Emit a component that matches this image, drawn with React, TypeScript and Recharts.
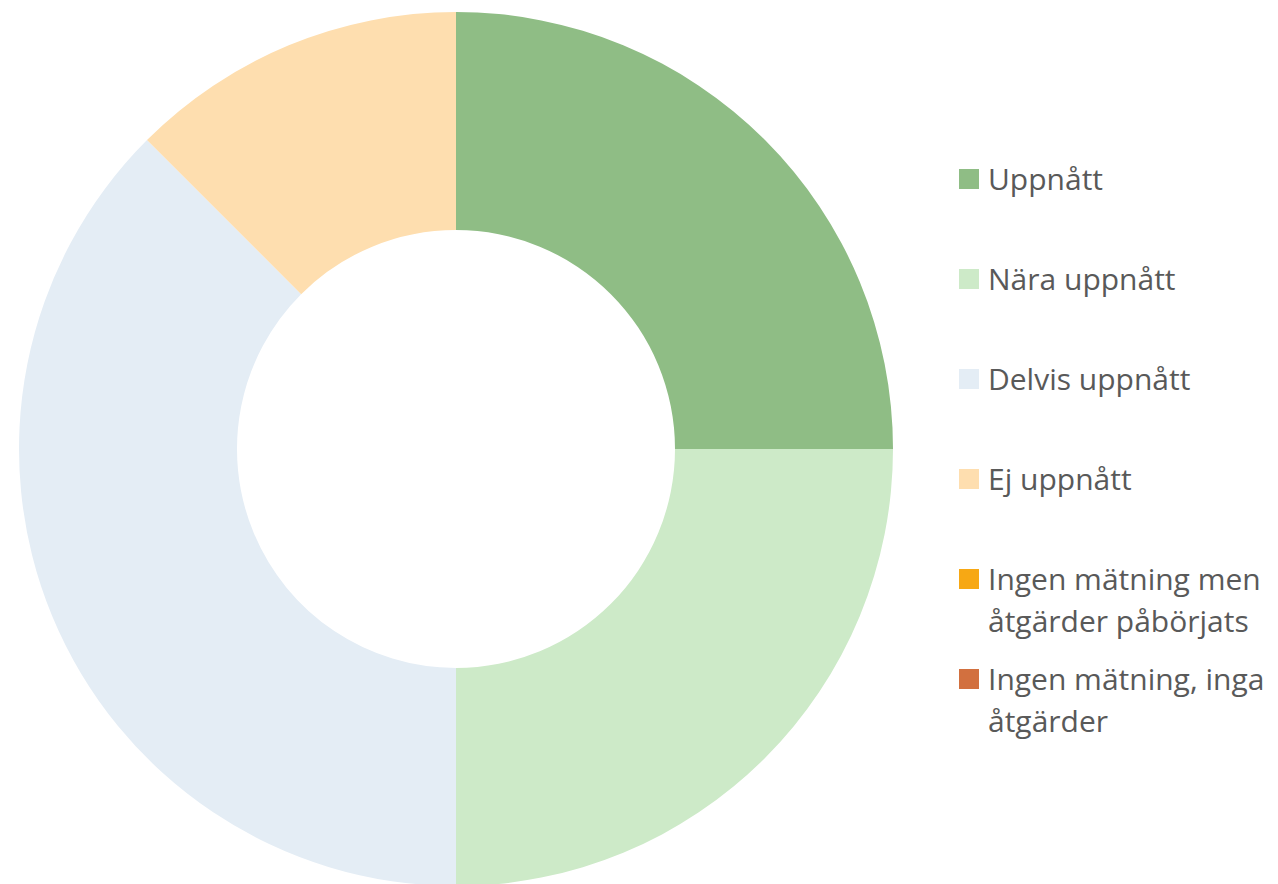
import { PieChart, Pie, Cell, Legend } from 'recharts';

const categories = [
  'Uppnått',
  'Nära uppnått',
  'Delvis uppnått',
  'Ej uppnått',
  'Ingen mätning men åtgärder påbörjats',
  'Ingen mätning, inga åtgärder',
];
const values = [2, 2, 3, 1, 0, 0];
const colors = ['#8FBD85', '#CDEAC8', '#E4EDF5', '#FEDEAF', '#F7A814', '#D2703F'];

const chartData = categories.map((name, i) => ({ name, value: values[i] }));

function LegendList() {
  return (
    <div style={{ fontFamily: '"Open Sans", sans-serif', fontSize: 30, color: '#595959' }}>
      {categories.map((name, i) => (
        <div key={name} style={{ display: 'flex', alignItems: 'flex-start', height: 100 }}>
          <span
            style={{
              width: 20,
              height: 20,
              marginTop: 11,
              marginRight: 9,
              background: colors[i],
              flexShrink: 0,
            }}
          />
          <span style={{ lineHeight: '42px', width: 292 }}>{name}</span>
        </div>
      ))}
    </div>
  );
}

export default function App() {
  return (
    <PieChart width={1270} height={884}>
      <Pie
        data={chartData}
        dataKey="value"
        nameKey="name"
        cx={443}
        cy={436}
        outerRadius={437}
        innerRadius={219}
        startAngle={90}
        endAngle={-270}
        stroke="none"
        isAnimationActive={false}
      >
        {chartData.map((d, i) => (
          <Cell key={d.name} fill={colors[i]} />
        ))}
      </Pie>
      <Legend
        content={() => <LegendList />}
        wrapperStyle={{ position: 'absolute', left: 951, top: 150, width: 330 }}
      />
    </PieChart>
  );
}
